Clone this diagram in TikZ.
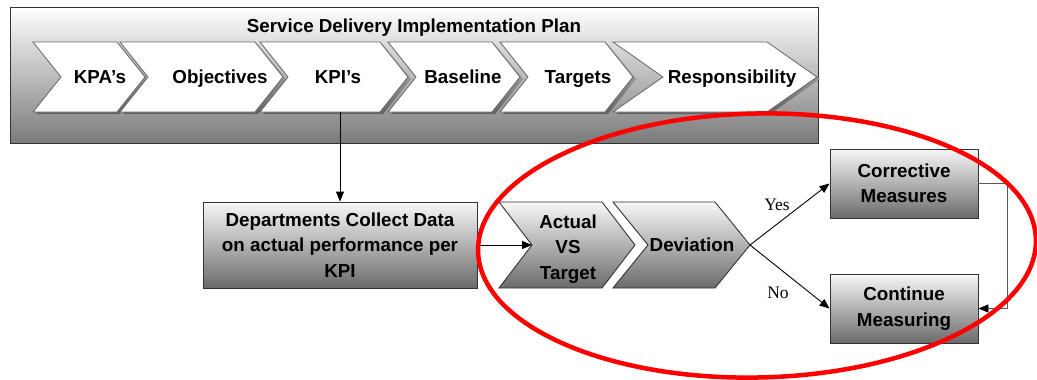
\documentclass[tikz,border=0pt]{standalone}
\usepackage{fontspec}
\setmainfont{Liberation Sans}
\newfontfamily\tnr{Liberation Serif}
\usetikzlibrary{arrows.meta,calc}
\tikzset{
  lbl/.style={font=\bfseries\fontsize{18.8}{25.5}\selectfont, align=center, inner sep=0pt, text=black},
  ynlbl/.style={font=\tnr\fontsize{17.5}{20}\selectfont, inner sep=0pt},
  chevwhite/.style={fill=white, draw=black!60, line width=0.8pt},
  chevshadow/.style={top color=black!22, bottom color=black!62},
  grad/.style={top color=white!97!black, bottom color=black!58, draw=black!80, line width=0.9pt},
  topbox/.style={top color=white, bottom color=black!52, draw=black!80, line width=0.9pt, minimum width=808pt, minimum height=136pt, inner sep=0pt},
  gradbox/.style={grad, inner sep=0pt, lbl},
  conn/.style={draw=black, line width=0.9pt, -{Triangle[length=10pt,width=8pt]}},
  fb/.style={draw=black!65, line width=0.9pt},
  ring/.style={draw=red, line width=4.5pt},
}
% style, x-left, x-tip, y-top, y-bottom, depth
\newcommand\mychev[6]{\path[#1] (#2,#4) -- ({#3-#6},#4) -- (#3,{(#4+#5)/2}) -- ({#3-#6},#5) -- (#2,#5) -- ({#2+#6},{(#4+#5)/2}) -- cycle;}
\begin{document}
\begin{tikzpicture}[x=1pt,y=-1pt]
\useasboundingbox[fill=white] (0,0) rectangle (1037,380);
% top container
\node[topbox] (plan) at (414,75) {};
\node[lbl, anchor=base] (title) at (414,32.7) {Service Delivery Implementation Plan};
% chevron shadows
\foreach \a/\b/\d in {33/145/28,120/283/28,260/408/28,388/520/28,500/633/28,613/817/50}{
  \mychev{chevshadow, xshift=3pt, yshift=-2pt}{\a}{\b}{42}{112}{\d}
}
% chevrons
\mychev{chevwhite}{33}{145}{42}{112}{28}
\mychev{chevwhite}{120}{283}{42}{112}{28}
\mychev{chevwhite}{260}{408}{42}{112}{28}
\mychev{chevwhite}{388}{520}{42}{112}{28}
\mychev{chevwhite}{500}{633}{42}{112}{28}
\mychev{chevwhite}{613}{817}{42}{112}{50}
\node[lbl, anchor=base] (kpa) at (100,83.7) {KPA’s};
\node[lbl, anchor=base] (obj) at (220,83.7) {Objectives};
\node[lbl, anchor=base] (kpi) at (338,83.7) {KPI’s};
\node[lbl, anchor=base] (base) at (463,83.7) {Baseline};
\node[lbl, anchor=base] (targ) at (578,83.7) {Targets};
\node[lbl, anchor=base] (resp) at (732,83.7) {Responsibility};
\coordinate (kpib) at (340,112);
% lower row
\node[gradbox, minimum width=274pt, minimum height=86pt] (dept) at (340,245) {Departments Collect Data\\on actual performance per\\KPI};
\mychev{grad}{499}{635}{202}{288}{33}
\mychev{grad}{613}{750}{202}{288}{35}
\node[lbl] (act) at (568,249) {Actual\\VS\\Target};
\node[lbl, anchor=base] (dev) at (692,251.7) {Deviation};
\coordinate (actnotch) at (532,245);
\coordinate (devtip) at (750,245);
\node[gradbox, minimum width=148pt, minimum height=69pt] (corr) at (904,183.5) {Corrective\\Measures};
\node[gradbox, minimum width=148pt, minimum height=69pt] (cont) at (904,308.5) {Continue\\Measuring};
% connectors
\draw[conn] (kpib) -- (kpib |- dept.north);
\draw[conn] (dept.east) -- (actnotch);
\draw[conn] (devtip) -- (corr.west);
\draw[conn] (devtip) -- (cont.west);
\coordinate (fbx) at (1007,183.5);
\draw[fb] (corr.east) -- (fbx) |- (cont.east);
\draw[conn] ($(cont.east)+(3,0)$) -- (cont.east);
\node[ynlbl, anchor=base] (yes) at (777,210.8) {Yes};
\node[ynlbl, anchor=base] (no) at (778,298.8) {No};
% red ellipse
\draw[ring, rotate around={1.2:(757,245.5)}] (757,245.5) ellipse [x radius=279pt, y radius=132pt];
\end{tikzpicture}
\end{document}
